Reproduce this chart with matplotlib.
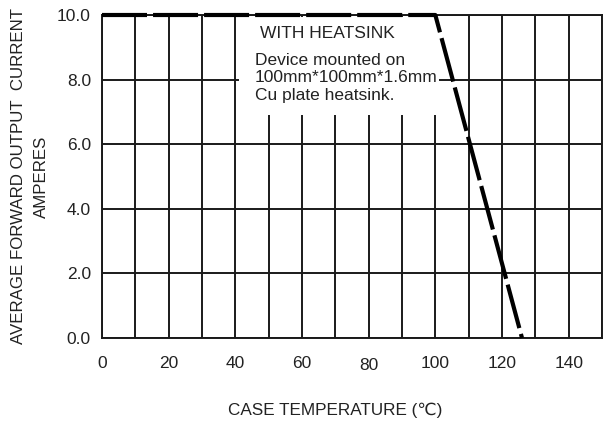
import matplotlib
matplotlib.use('Agg')
import matplotlib.pyplot as plt
from matplotlib.patches import Rectangle
from matplotlib.ticker import MultipleLocator

plt.rcParams['font.family'] = ['Liberation Sans', 'DejaVu Sans']

# derating curve
temps = [0, 100, 126]
current = [10.0, 10.0, 0.0]
xticks = [0, 20, 40, 60, 80, 100, 120, 140]
yticks = [0.0, 2.0, 4.0, 6.0, 8.0, 10.0]
note_title = 'WITH HEATSINK'
note_lines = ['Device mounted on', '100mm*100mm*1.6mm', 'Cu plate heatsink.']

fig = plt.figure(figsize=(6.03, 4.23), dpi=100)
ax = fig.add_axes([102/603, 85/423, 500/603, 323/423])
ax.set_xlim(0, 150)
ax.set_ylim(0, 10)

ax.set_xticks(xticks)
ax.set_xticklabels([str(t) for t in xticks])
ax.xaxis.set_minor_locator(MultipleLocator(10))
ax.set_yticks(yticks)
ax.set_yticklabels(['%.1f' % v for v in yticks])
ax.tick_params(which='both', length=0, labelsize=12.5, colors='#222222')
ax.tick_params(axis='x', pad=13)
ax.tick_params(axis='y', pad=8)
ax.set_axisbelow(True)
ax.grid(True, which='both', color='#1a1a1a', lw=1.4)
for s in ax.spines.values():
    s.set_linewidth(1.4)
    s.set_color('#1a1a1a')
# the "80" label sits a bit lower in the original
for lab in ax.get_xticklabels():
    if lab.get_text() == '80':
        lab.set_y(-0.007)

# white note box over the grid
ax.add_patch(Rectangle((41, 6.9), 60, 3.04, facecolor='white', edgecolor='none', zorder=2))
ax.text(67.6, 9.43, note_title, ha='center', va='center', fontsize=12.5, color='#222222', zorder=4)
ax.text(45.8, 8.05, '\n'.join(note_lines), ha='left', va='center', fontsize=12.5,
        color='#222222', linespacing=1.2, zorder=4)

ax.plot(temps, current, color='black', lw=3.0, dashes=(10.8, 1.45),
        solid_capstyle='butt', dash_capstyle='butt', clip_on=False, zorder=3)

ax.set_ylabel('AVERAGE FORWARD OUTPUT  CURRENT\nAMPERES', fontsize=12.2,
              color='#222222', linespacing=1.65, labelpad=6)
fig.text(335/603, 1 - 410/423, 'CASE TEMPERATURE (\u2103)', ha='center', va='center',
         fontsize=12.3, color='#222222')

fig.savefig('out.png', dpi=100)
